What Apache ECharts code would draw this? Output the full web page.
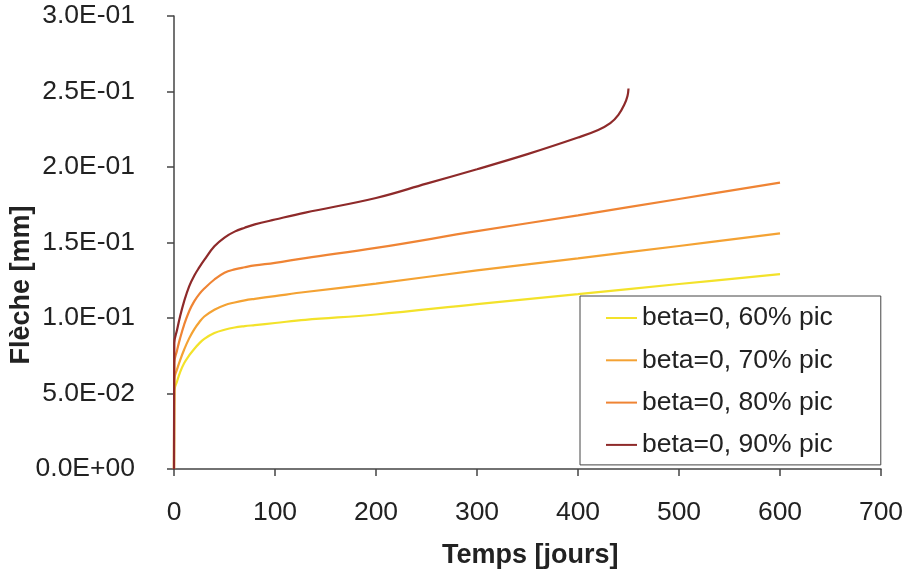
<!DOCTYPE html>
<html><head><meta charset="utf-8">
<script src="https://cdn.jsdelivr.net/npm/echarts@6/dist/echarts.min.js"></script>
<style>html,body{margin:0;padding:0;background:#fff}#c{width:907px;height:575px}</style>
</head><body><div id="c"></div>
<script>
const seriesNames = ['beta=0, 60% pic','beta=0, 70% pic','beta=0, 80% pic','beta=0, 90% pic'];
const tA = [0, 0.3, 3, 6, 10, 15, 20, 25, 30, 40, 50, 60, 70, 80, 100, 130, 200, 300, 400, 500, 600];
const v60 = [0, 0.0517, 0.058, 0.064, 0.07, 0.0752, 0.0795, 0.0832, 0.0862, 0.09, 0.0922, 0.0937, 0.0946, 0.0953, 0.0967, 0.0988, 0.1023, 0.1092, 0.1158, 0.1225, 0.129];
const v70 = [0, 0.0595, 0.066, 0.072, 0.079, 0.0865, 0.0925, 0.0972, 0.101, 0.1055, 0.1085, 0.1103, 0.1117, 0.1127, 0.1145, 0.1172, 0.1228, 0.1315, 0.1395, 0.1477, 0.156];
const v80 = [0, 0.0705, 0.0785, 0.0865, 0.0955, 0.1045, 0.111, 0.1158, 0.1195, 0.1255, 0.13, 0.1322, 0.1336, 0.1348, 0.1365, 0.1397, 0.1464, 0.1575, 0.168, 0.1788, 0.1897];
const t90 = [0, 0.3, 3, 6, 10, 15, 20, 25, 30, 40, 50, 60, 70, 80, 100, 130, 200, 250, 300, 350, 400, 420, 432, 440, 446, 449, 450];
const v90 = [0, 0.0835, 0.092, 0.101, 0.111, 0.121, 0.128, 0.1335, 0.1385, 0.1475, 0.1533, 0.1572, 0.1598, 0.162, 0.1652, 0.1698, 0.1795, 0.189, 0.1985, 0.2085, 0.2195, 0.2245, 0.229, 0.2345, 0.2415, 0.247, 0.252];
const colors = ['#f3e22a', '#f4a233', '#ef8434', '#8e2a2a'];

function zip(t, v){ return t.map((x,i)=>[x, v[i]]); }
function fmtE(v){
  if (Math.abs(v) < 1e-12) return '0.0E+00';
  const s = v.toExponential(1).split('e');
  const e = parseInt(s[1],10);
  return s[0] + 'E' + (e < 0 ? '-' : '+') + String(Math.abs(e)).padStart(2,'0');
}
const font = 'Liberation Sans';
const chart = echarts.init(document.getElementById('c'));
const data = [zip(tA,v60), zip(tA,v70), zip(tA,v80), zip(t90,v90)];
chart.setOption({
  animation: false,
  backgroundColor: '#fff',
  textStyle: { fontFamily: font },
  grid: { left: 174, top: 16, right: 26, bottom: 106, containLabel: false },
  xAxis: {
    type: 'value', min: 0, max: 700, interval: 100,
    axisLine: { show: true, onZero: false, lineStyle: { color: '#444', width: 1.5 } },
    axisTick: { show: true, length: 7, lineStyle: { color: '#444', width: 1.5 } },
    axisLabel: { fontSize: 26.5, color: '#222', margin: 30, fontFamily: font },
    splitLine: { show: false }
  },
  yAxis: {
    type: 'value', min: 0, max: 0.3, interval: 0.05,
    axisLine: { show: true, lineStyle: { color: '#444', width: 1.5 } },
    axisTick: { show: true, length: 7, lineStyle: { color: '#444', width: 1.5 } },
    axisLabel: { fontSize: 26.5, color: '#222', margin: 39, fontFamily: font, formatter: fmtE, padding: [5,0,0,0] },
    splitLine: { show: false }
  },
  legend: {
    orient: 'vertical', left: 580, top: 296,
    data: seriesNames,
    backgroundColor: '#fff', borderColor: '#444', borderWidth: 1,
    padding: [8, 48, 6, 26],
    icon: 'rect', itemWidth: 31, itemHeight: 2, itemGap: 14.3,
    textStyle: { fontSize: 26.5, color: '#222', fontFamily: font, lineHeight: 28 }
  },
  graphic: [
    { type: 'text', left: 442, top: 542, style: { text: 'Temps [jours]', font: 'bold 27px "Liberation Sans"', fill: '#222' } },
    { type: 'text', x: 22, y: 285, rotation: Math.PI/2, style: { text: 'Flèche [mm]', font: 'bold 27px "Liberation Sans"', fill: '#222', align: 'center', verticalAlign: 'middle' } }
  ],
  series: seriesNames.map((n,i)=>({
    name: n, type: 'line', data: data[i], showSymbol: false, symbol: 'none',
    smooth: 0.4,
    lineStyle: { color: colors[i], width: 2.2 }, itemStyle: { color: colors[i] }
  }))
});
</script></body></html>
